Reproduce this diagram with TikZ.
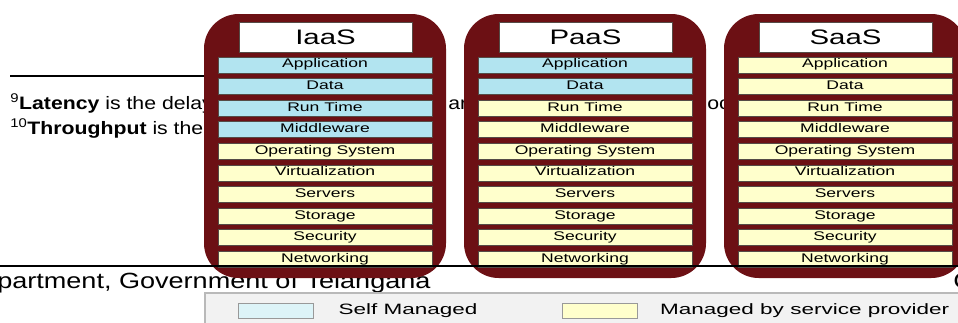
\documentclass[tikz,border=0pt]{standalone}
\usepackage{fontspec}
\setmainfont{Liberation Sans}
\newfontfamily\layerfont{Liberation Sans}[FakeStretch=1.4]
\newfontfamily\notefont{Liberation Sans}[FakeStretch=1.18]
\newfontfamily\footfont{Liberation Sans}[FakeStretch=1.23]
\newfontfamily\keyfont{Liberation Sans}[FakeStretch=1.5]
\usetikzlibrary{positioning}

\definecolor{panelred}{RGB}{108,16,20}
\definecolor{selfblue}{RGB}{178,228,240}
\definecolor{provyellow}{RGB}{255,255,204}
\definecolor{keyblue}{RGB}{221,244,248}
\definecolor{keygray}{RGB}{242,242,242}
\definecolor{layerline}{RGB}{85,75,70}

\begin{document}
\begin{tikzpicture}[x=0.75pt,y=-0.75pt,
  panel/.style={fill=panelred, rounded corners=26pt},
  titlebox/.style={draw=layerline, fill=white, minimum width=129.75pt,
    minimum height=22.5pt, inner sep=0pt, text height=11.5pt, text depth=0pt,
    font=\layerfont\fontsize{15.75}{16}\selectfont},
  layer/.style={draw=layerline, line width=0.6pt, minimum width=160.5pt,
    minimum height=12pt, inner sep=0pt, text height=6.6pt, text depth=2.4pt,
    font=\layerfont\fontsize{9.4}{10}\selectfont},
  note/.style={inner sep=0pt, anchor=base west, font=\notefont\fontsize{13.5}{16}\selectfont},
  swatch/.style={draw=gray!80, minimum width=56.25pt, minimum height=11.25pt, inner sep=0pt},
  keytext/.style={inner sep=0pt, anchor=west, text height=8.2pt, text depth=2.3pt,
    font=\keyfont\fontsize{11.25}{12}\selectfont}]
\clip (0,0) rectangle (958,322);
\fill[white] (0,0) rectangle (958,322);

% page text lying behind the figure
\draw[line width=1.2pt] (10,76) -- (300,76);
\node[note] (latency) at (10,109) {\textsuperscript{9}\textbf{Latency} is the delay};
\node[note] (frag1) at (448,109) {ar};
\node[note] (frag2) at (707,109) {oc};
\node[note] (through) at (10,134) {\textsuperscript{10}\textbf{Throughput} is the};
\node[note, font=\footfont\fontsize{16.5}{18}\selectfont] (footer) at (-3,288) {partment, Government of Telangana};
\node[note, font=\footfont\fontsize{16.5}{18}\selectfont] (footerc) at (953,288) {C};

% the three service stacks
\foreach \name/\cx/\nself in {IaaS/325/4, PaaS/585/2, SaaS/845/0} {
  \fill[panel] (\cx-121,14) rectangle (\cx+121,278);
  \node[titlebox] (\name) at (\cx+0.5,37) {\name};
  \foreach \lname [count=\i] in {Application, Data, Run Time, Middleware,
      Operating System, Virtualization, Servers, Storage, Security, Networking} {
    \ifnum\i>\nself \def\lfill{provyellow}\else\def\lfill{selfblue}\fi
    \node[layer, fill=\lfill] (\name-\i) at (\cx,{43.4+21.6*\i}) {\lname};
  }
}

\draw[line width=1.5pt] (0,266) -- (958,266);

% legend
\draw[draw=gray!55, fill=keygray, line width=1pt] (205,293) rectangle (975,340);
\node[swatch, fill=keyblue] (selfkey) at (275.5,310.5) {};
\node[keytext, right=18.75pt of selfkey] (selflabel) {Self Managed};
\node[swatch, fill=provyellow] (provkey) at (599.5,310.5) {};
\node[keytext, right=17pt of provkey] (provlabel) {Managed by service provider};
\end{tikzpicture}
\end{document}
